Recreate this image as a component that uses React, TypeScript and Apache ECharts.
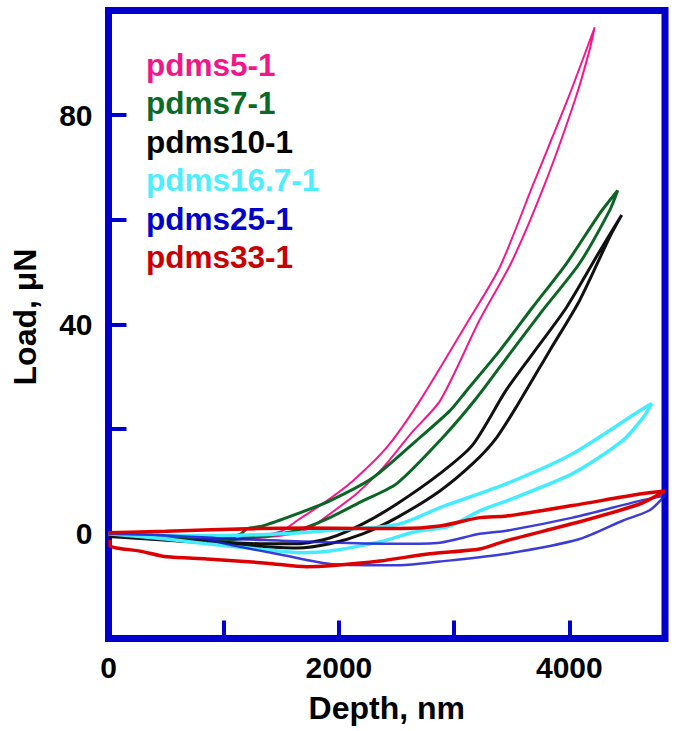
import React, { useEffect, useRef } from "react";
import * as echarts from "echarts";

const seriesNames = ["pdms5-1", "pdms7-1", "pdms10-1", "pdms16.7-1", "pdms25-1", "pdms33-1"];
const legendColors = ["#f01889", "#0c6a26", "#000000", "#4deeff", "#0000cc", "#c80000"];
const lineColors = ["#f5178c", "#0b6524", "#111111", "#45ecff", "#1a1ad0", "#dd0000"];
const lineWidths = [2, 3, 3, 3.5, 2.5, 3.5];

const xTickLabels = [0, 2000, 4000];
const yTickLabels = [0, 40, 80];

// [depth nm, load uN] in loop order (loading branch, then unloading branch)
const pdms5 = [
  [0, 0], [500, -0.3], [1000, -0.5], [1300, -0.3], [1500, 0.5], [1635, 2.5], [1895, 6.3], [2120, 10.1],
  [2415, 16.5], [2705, 25.5], [3109, 40.2], [3395, 50.9], [3690, 67], [3985, 83], [4220, 96.8],
  [4170, 92], [4050, 83], [3790, 67], [3500, 52], [3220, 40.8], [2880, 25.5], [2630, 19.3], [2381, 12.6],
  [2155, 7.7], [1921, 3.8], [1748, 1.1], [1600, 0], [1300, -0.8], [800, -1], [300, -0.6], [0, -0.3],
];
const pdms7 = [
  [0, 0], [500, -0.6], [800, -1.2], [1000, -1], [1150, 0], [1201, 1], [1340, 1.5], [1635, 3.8], [1921, 6.3],
  [2294, 10.7], [2702, 18.4], [2962, 23.5], [3109, 27.4], [3396, 35], [3681, 43.3], [3976, 51.7],
  [4263, 61.2], [4419, 65.6],
  [4350, 61.8], [4089, 51.7], [3768, 42.7], [3482, 34.4], [3196, 26], [2901, 18.4], [2502, 9.6],
  [2207, 6.3], [1921, 3.1], [1687, 1], [1500, 0], [1200, -0.8], [800, -1.5], [400, -1], [0, -0.3],
];
const pdms10 = [
  [0, -0.5], [500, -1], [1000, -1.6], [1340, -1.9], [1635, -1.9], [1921, -0.8], [2207, 1.9], [2502, 5.7],
  [2876, 11.5], [3161, 17], [3450, 27.4], [3681, 34.4], [3976, 43.3], [4263, 54], [4454, 60.9],
  [4350, 56.7], [4089, 44.6], [3829, 35], [3560, 25], [3369, 18.4], [3161, 13.4], [2876, 8.2],
  [2502, 3.1], [2207, 0], [1921, -1.9], [1635, -2.7], [1200, -2.3], [700, -1.5], [0, -0.5],
];
const pdms16 = [
  [0, 0], [500, -0.3], [1000, -0.3], [1500, 0], [2000, 0.8], [2515, 1.8], [2900, 5.2], [3456, 9.6],
  [4028, 15.3], [4610, 23.5], [4714, 24.9],
  [4650, 22.5], [4462, 17.8], [4028, 11.5], [3456, 6.3], [3222, 4.4], [2962, 1.5], [2641, 0.3],
  [2400, -1.3], [1921, -3.3], [1661, -3.6], [1340, -3], [854, -1.9], [500, -1], [0, 0],
];
const pdms25 = [
  [0, 0], [500, -0.3], [1080, -1], [1500, -1.3], [2000, -1.7], [2528, -1.9], [2876, -1.7], [3222, 0],
  [3456, 0.6], [4028, 3.1], [4610, 6.3], [4830, 7.3],
  [4697, 4.5], [4462, 2.5], [4089, -1], [3456, -3.8], [2876, -5.3], [2528, -6], [1947, -5.8],
  [1500, -4], [1100, -2.3], [794, -0.8], [400, -0.2], [0, 0],
];
const pdms33 = [
  [0, 0.2], [500, 0.5], [1288, 1], [1722, 1.1], [2200, 1], [2528, 1], [2876, 1.5], [3222, 3.1],
  [3456, 3.4], [4028, 5.4], [4610, 7.6], [4830, 8.2],
  [4610, 5.7], [4089, 2.3], [3456, -1.3], [3222, -2.9], [2789, -3.8], [2355, -5.2], [1925, -6.1],
  [1722, -6.3], [1375, -5.6], [854, -4.8], [507, -4.4], [273, -3.3], [13, -2.3], [13, -1.2],
];
const allData = [pdms5, pdms7, pdms10, pdms16, pdms25, pdms33];

const FONT = "'Liberation Sans', Arial, sans-serif";
const BLUE = "#0000cc";

export default function App() {
  const ref = useRef<HTMLDivElement>(null);
  useEffect(() => {
    if (!ref.current) return;
    const chart = echarts.init(ref.current, null, { renderer: "svg" });
    chart.setOption({
      animation: false,
      backgroundColor: "#ffffff",
      grid: {
        left: 108.5,
        right: 11,
        top: 10.5,
        bottom: 92.5,
        show: true,
        borderColor: BLUE,
        borderWidth: 7,
        backgroundColor: "transparent",
      },
      legend: {
        show: true,
        orient: "vertical",
        left: 136,
        top: 44,
        itemGap: 6.4,
        itemWidth: 0,
        itemHeight: 0,
        icon: "none",
        selectedMode: false,
        textStyle: { fontFamily: FONT, fontWeight: "bold", fontSize: 31.5, padding: 0 },
        data: seriesNames.map((n, i) => ({
          name: n,
          icon: "none",
          textStyle: { color: legendColors[i], fontFamily: FONT, fontWeight: "bold", fontSize: 31.5 },
        })),
      },
      xAxis: {
        type: "value",
        min: 0,
        max: 4830,
        interval: 1000,
        name: "Depth, nm",
        nameLocation: "middle",
        nameGap: 53,
        nameTextStyle: { fontFamily: FONT, fontWeight: "bold", fontSize: 32, color: "#000" },
        axisLine: { show: false, onZero: false },
        axisTick: { show: true, inside: true, length: 18, lineStyle: { color: BLUE, width: 4 } },
        splitLine: { show: false },
        axisLabel: {
          margin: 14,
          fontFamily: FONT,
          fontWeight: "bold",
          fontSize: 30,
          color: "#000",
          formatter: (v: number) => (xTickLabels.includes(v) ? String(v) : ""),
        },
      },
      yAxis: {
        type: "value",
        min: -20,
        max: 100,
        interval: 20,
        name: "Load, \u03bcN",
        nameLocation: "middle",
        nameGap: 68,
        nameTextStyle: { fontFamily: FONT, fontWeight: "bold", fontSize: 32, color: "#000", padding: [0, 0, 0, 15] },
        axisLine: { show: false, onZero: false },
        axisTick: { show: true, inside: true, length: 18, lineStyle: { color: BLUE, width: 4 } },
        splitLine: { show: false },
        axisLabel: {
          margin: 16,
          fontFamily: FONT,
          fontWeight: "bold",
          fontSize: 30,
          color: "#000",
          formatter: (v: number) => (yTickLabels.includes(v) ? String(v) : ""),
        },
      },
      series: seriesNames.map((n, i) => ({
        name: n,
        type: "line",
        data: allData[i],
        showSymbol: false,
        symbol: "none",
        smooth: 0.25,
        color: lineColors[i],
        lineStyle: { color: lineColors[i], width: lineWidths[i], opacity: i === 4 ? 0.85 : 1 },
        itemStyle: { color: lineColors[i] },
      })),
    });
    return () => chart.dispose();
  }, []);
  return <div ref={ref} style={{ width: 676, height: 731, position: "absolute", left: 0, top: 0 }} />;
}
